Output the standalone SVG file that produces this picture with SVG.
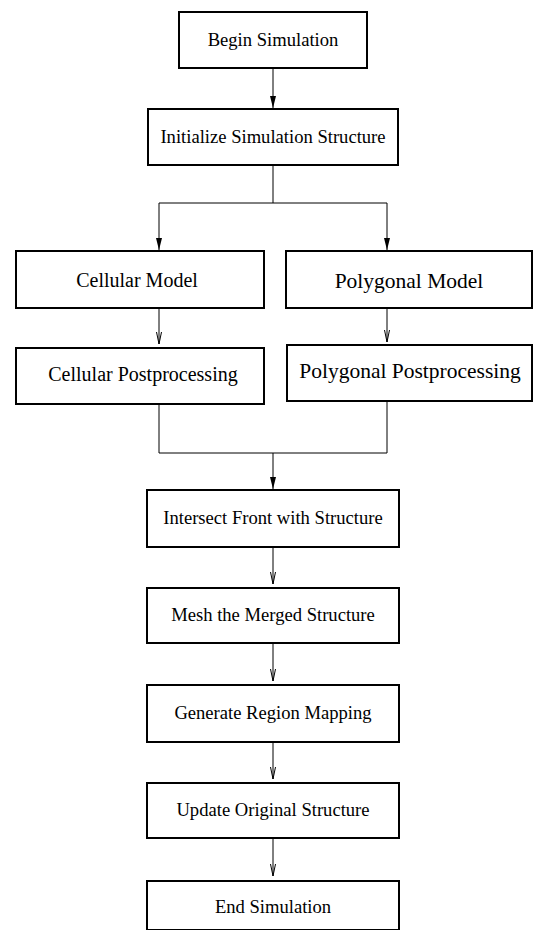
<svg xmlns="http://www.w3.org/2000/svg" width="533" height="930" viewBox="0 0 533 930">
<defs>
<style>
.box{fill:#fff;stroke:#000;stroke-width:2}
.t{font-family:"Liberation Serif","Times New Roman",serif;font-size:18.6px;fill:#000;text-anchor:middle}
.tl{font-size:20px}
.tr{font-size:21.5px}
.c{fill:none;stroke:#000;stroke-width:1}
.fa{marker-end:url(#fill)}
.va{marker-end:url(#vee)}
</style>
<marker id="fill" markerUnits="userSpaceOnUse" viewBox="0 0 12 6" refX="12" refY="3" markerWidth="12" markerHeight="6" orient="auto">
<path d="M0,0 L12,3 L0,6 Z" fill="#000"/>
</marker>
<marker id="vee" markerUnits="userSpaceOnUse" viewBox="-1 -1 14 8" refX="12" refY="3" markerWidth="14" markerHeight="8" orient="auto">
<path d="M0,0.5 L12,3 L0,5.5" fill="none" stroke="#000" stroke-width="1"/>
</marker>
</defs>
<rect width="533" height="930" fill="#fff"/>
<g id="connectors">
<line class="c fa" x1="273" y1="68" x2="273" y2="108"/>
<polyline class="c" points="273,165 273,203"/>
<polyline class="c fa" points="273,203 159,203 159,250"/>
<polyline class="c fa" points="273,203 387,203 387,250"/>
<line class="c va" x1="159" y1="308" x2="159" y2="344"/>
<line class="c va" x1="387" y1="308" x2="387" y2="342"/>
<polyline class="c" points="159,404 159,453 387,453 387,401"/>
<line class="c fa" x1="273" y1="453" x2="273" y2="489"/>
<line class="c va" x1="273" y1="547" x2="273" y2="584"/>
<line class="c va" x1="273" y1="643" x2="273" y2="681"/>
<line class="c va" x1="273" y1="742" x2="273" y2="779"/>
<line class="c va" x1="273" y1="838" x2="273" y2="876"/>
</g>
<g id="begin"><rect class="box" x="179" y="12" width="188" height="56"/><text class="t" x="273" y="46">Begin Simulation</text></g>
<g id="initialize"><rect class="box" x="148" y="109" width="250" height="56"/><text class="t" x="273" y="143">Initialize Simulation Structure</text></g>
<g id="cellular-model"><rect class="box" x="16" y="251" width="248" height="57"/><text class="t tl" x="137" y="287">Cellular Model</text></g>
<g id="polygonal-model"><rect class="box" x="286" y="251" width="246" height="57"/><text class="t tr" x="409" y="288">Polygonal Model</text></g>
<g id="cellular-post"><rect class="box" x="16" y="348" width="248" height="56"/><text class="t tl" x="143" y="381">Cellular Postprocessing</text></g>
<g id="polygonal-post"><rect class="box" x="287" y="345" width="245" height="56"/><text class="t tr" x="410" y="378">Polygonal Postprocessing</text></g>
<g id="intersect"><rect class="box" x="147" y="490" width="252" height="57"/><text class="t" x="273" y="524">Intersect Front with Structure</text></g>
<g id="mesh"><rect class="box" x="147" y="588" width="252" height="55"/><text class="t" x="273" y="621">Mesh the Merged Structure</text></g>
<g id="generate"><rect class="box" x="147" y="685" width="252" height="57"/><text class="t" x="273" y="719">Generate Region Mapping</text></g>
<g id="update"><rect class="box" x="147" y="783" width="252" height="55"/><text class="t" x="273" y="816">Update Original Structure</text></g>
<g id="end"><rect class="box" x="147" y="881" width="252" height="49"/><text class="t" x="273" y="913">End Simulation</text></g>
</svg>
